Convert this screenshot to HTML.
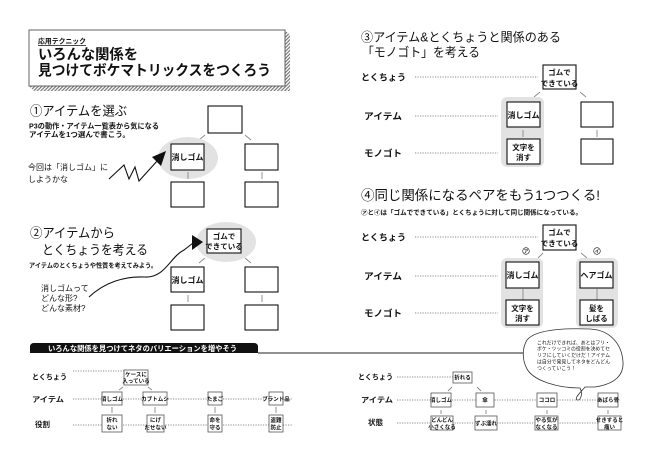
<!DOCTYPE html>
<html><head><meta charset="utf-8"><style>
html,body{margin:0;padding:0;background:#fff;}
svg{display:block;}
text{font-family:"Liberation Sans","Noto Sans CJK JP",sans-serif;fill:#111;}
.b{font-weight:bold;}
.c{text-anchor:middle;}
.box{fill:#fff;stroke:#111;stroke-width:1.1;}
.sb{fill:#fff;stroke:#555;stroke-width:0.8;}
.gl{stroke:#888;stroke-width:0.9;}
.dot{stroke:#666;stroke-width:0.7;stroke-dasharray:1.2 1.3;}
.gr{fill:#e2e2e2;}
</style></head><body>
<svg width="650" height="463" viewBox="0 0 650 463" xmlns="http://www.w3.org/2000/svg">
<defs>
<pattern id="h" width="2.5" height="2.5" patternUnits="userSpaceOnUse" patternTransform="rotate(45)">
<rect width="2.5" height="2.5" fill="#fff"/><rect width="1.2" height="2.5" fill="#777"/>
</pattern>
</defs>

<!-- Title box -->
<polygon points="285,30 290,35 290,91 285,86" fill="url(#h)"/>
<polygon points="29,86 34,91 290,91 285,86" fill="url(#h)"/>
<rect x="29" y="30" width="256" height="56" fill="#fff" stroke="#555" stroke-width="0.9"/>
<text x="38" y="43.5" class="b" font-size="7" textLength="48" lengthAdjust="spacingAndGlyphs">応用テクニック</text>
<line x1="38" y1="45.5" x2="86" y2="45.5" stroke="#111" stroke-width="0.7"/>
<text x="38" y="59.5" class="b" font-size="14.5" textLength="100" lengthAdjust="spacingAndGlyphs">いろんな関係を</text>
<text x="38" y="75.5" class="b" font-size="14.5" textLength="233" lengthAdjust="spacingAndGlyphs">見つけてボケマトリックスをつくろう</text>

<!-- Section 1 -->
<text x="30" y="115.5" font-size="13" textLength="97" lengthAdjust="spacingAndGlyphs">①アイテムを選ぶ</text>
<text x="29" y="128.5" class="b" font-size="7.3" textLength="130" lengthAdjust="spacingAndGlyphs">P3の動作・アイテム一覧表から気になる</text>
<text x="29" y="136.8" class="b" font-size="7.3" textLength="101" lengthAdjust="spacingAndGlyphs">アイテムを1つ選んで書こう。</text>
<rect x="208" y="106" width="34" height="27" class="box"/>
<line x1="199" y1="140" x2="205" y2="135" class="gl"/>
<line x1="245" y1="135" x2="251" y2="140" class="gl"/>
<ellipse cx="188" cy="158" rx="30" ry="21" class="gr"/>
<rect x="171" y="144" width="33" height="26" class="box"/>
<text x="187.5" y="160" class="b c" font-size="8">消しゴム</text>
<rect x="245" y="144" width="33" height="26" class="box"/>
<line x1="188" y1="172" x2="188" y2="179" class="gl"/>
<line x1="262" y1="172" x2="262" y2="179" class="gl"/>
<rect x="171" y="182" width="33" height="25" class="box"/>
<rect x="245" y="182" width="33" height="25" class="box"/>
<polyline points="109,179 124,165 129,179 135,167 139,181 158,160" fill="none" stroke="#111" stroke-width="1.1"/>
<polygon points="166,151 152,157 161,166" fill="#111"/>
<text x="28" y="170" font-size="8">今回は「消しゴム」に</text>
<text x="28" y="182" font-size="8">しようかな</text>

<!-- Section 2 -->
<text x="30" y="237.5" font-size="13" textLength="85" lengthAdjust="spacingAndGlyphs">②アイテムから</text>
<text x="42" y="254.5" font-size="13" textLength="106" lengthAdjust="spacingAndGlyphs">とくちょうを考える</text>
<text x="29" y="267.5" class="b" font-size="6.3" textLength="128" lengthAdjust="spacingAndGlyphs">アイテムのとくちょうや性質を考えてみよう。</text>
<ellipse cx="226" cy="242" rx="30" ry="20" class="gr"/>
<rect x="207" y="229" width="34" height="24" class="box"/>
<text x="224" y="239" class="b c" font-size="7.5">ゴムで</text>
<text x="224" y="249" class="b c" font-size="7.5">できている</text>
<line x1="199" y1="263" x2="205" y2="258" class="gl"/>
<line x1="245" y1="258" x2="251" y2="263" class="gl"/>
<rect x="171" y="267" width="33" height="25" class="box"/>
<text x="187.5" y="283" class="b c" font-size="8">消しゴム</text>
<rect x="245" y="267" width="33" height="25" class="box"/>
<line x1="188" y1="295" x2="188" y2="302" class="gl"/>
<line x1="262" y1="295" x2="262" y2="302" class="gl"/>
<rect x="171" y="305" width="33" height="25" class="box"/>
<rect x="245" y="305" width="33" height="25" class="box"/>
<path d="M89,297 C105,282 125,276 145,277 C165,278 170,257 184,250 L193,243" fill="none" stroke="#111" stroke-width="1.1"/>
<polygon points="192,235 192,250 203,242" fill="#111"/>
<text x="41" y="291" font-size="8">消しゴムって</text>
<text x="41" y="301" font-size="8">どんな形?</text>
<text x="41" y="311" font-size="8">どんな素材?</text>

<!-- Section 3 -->
<text x="361" y="41.5" font-size="12.5" textLength="200" lengthAdjust="spacingAndGlyphs">③アイテム&amp;とくちょうと関係のある</text>
<text x="362" y="56.5" font-size="12.5" textLength="118" lengthAdjust="spacingAndGlyphs">「モノゴト」を考える</text>
<text x="361" y="80.5" class="b" font-size="9" textLength="45" lengthAdjust="spacingAndGlyphs">とくちょう</text>
<line x1="415" y1="77" x2="538" y2="77" class="dot"/>
<rect x="543" y="65" width="33" height="24" class="box"/>
<text x="559.5" y="75" class="b c" font-size="7.5">ゴムで</text>
<text x="559.5" y="86" class="b c" font-size="7.5">できている</text>
<line x1="534" y1="97" x2="540" y2="92" class="gl"/>
<line x1="580" y1="92" x2="586" y2="97" class="gl"/>
<rect x="501" y="97" width="43" height="70" rx="6" class="gr"/>
<text x="364" y="119.5" class="b" font-size="9" textLength="38" lengthAdjust="spacingAndGlyphs">アイテム</text>
<line x1="415" y1="116" x2="498" y2="116" class="dot"/>
<rect x="507" y="102" width="33" height="25" class="box"/>
<text x="523.5" y="118" class="b c" font-size="8">消しゴム</text>
<line x1="523" y1="130" x2="523" y2="137" class="gl"/>
<rect x="507" y="139" width="33" height="25" class="box"/>
<text x="523.5" y="150" class="b c" font-size="7.5">文字を</text>
<text x="523.5" y="160" class="b c" font-size="7.5">消す</text>
<rect x="581" y="102" width="32" height="25" class="box"/>
<line x1="597" y1="130" x2="597" y2="137" class="gl"/>
<rect x="581" y="139" width="32" height="25" class="box"/>
<text x="364" y="156.5" class="b" font-size="9" textLength="38" lengthAdjust="spacingAndGlyphs">モノゴト</text>
<line x1="415" y1="153" x2="498" y2="153" class="dot"/>

<!-- Section 4 -->
<text x="361" y="200" font-size="13.5" textLength="239" lengthAdjust="spacingAndGlyphs">④同じ関係になるペアをもう1つつくる!</text>
<text x="361" y="214.5" class="b" font-size="6.5" textLength="221" lengthAdjust="spacingAndGlyphs">㋐と㋑は「ゴムでできている」とくちょうに対して同じ関係になっている。</text>
<text x="361" y="240.5" class="b" font-size="9" textLength="45" lengthAdjust="spacingAndGlyphs">とくちょう</text>
<line x1="415" y1="237" x2="538" y2="237" class="dot"/>
<rect x="543" y="225" width="33" height="25" class="box"/>
<text x="559.5" y="235" class="b c" font-size="7.5">ゴムで</text>
<text x="559.5" y="246" class="b c" font-size="7.5">できている</text>
<circle cx="526" cy="251" r="3.3" fill="none" stroke="#111" stroke-width="0.6"/>
<text x="526" y="253" class="b c" font-size="4.5">ア</text>
<circle cx="597" cy="251" r="3.3" fill="none" stroke="#111" stroke-width="0.6"/>
<text x="597" y="253" class="b c" font-size="4.5">イ</text>
<line x1="538" y1="258" x2="543" y2="253" class="gl"/>
<line x1="581" y1="253" x2="587" y2="258" class="gl"/>
<rect x="501" y="258" width="42" height="70" rx="6" class="gr"/>
<rect x="576" y="258" width="42" height="70" rx="6" class="gr"/>
<text x="364" y="279.5" class="b" font-size="9" textLength="38" lengthAdjust="spacingAndGlyphs">アイテム</text>
<line x1="415" y1="276" x2="498" y2="276" class="dot"/>
<rect x="506" y="262" width="33" height="26" class="box"/>
<text x="522.5" y="278" class="b c" font-size="8">消しゴム</text>
<rect x="580" y="262" width="33" height="26" class="box"/>
<text x="596.5" y="278" class="b c" font-size="8">ヘアゴム</text>
<line x1="523" y1="289" x2="523" y2="300" class="gl"/>
<line x1="597" y1="289" x2="597" y2="300" class="gl"/>
<rect x="506" y="300" width="33" height="25" class="box"/>
<text x="522.5" y="311" class="b c" font-size="7.5">文字を</text>
<text x="522.5" y="321" class="b c" font-size="7.5">消す</text>
<rect x="580" y="300" width="33" height="25" class="box"/>
<text x="596.5" y="311" class="b c" font-size="7.5">髪を</text>
<text x="596.5" y="321" class="b c" font-size="7.5">しばる</text>
<text x="364" y="316.5" class="b" font-size="9" textLength="38" lengthAdjust="spacingAndGlyphs">モノゴト</text>
<line x1="415" y1="313" x2="498" y2="313" class="dot"/>

<!-- Bottom header -->
<path d="M30,353 L30,347 Q30,343 34,343 L254,343 Q258,343 258,347 L258,353 Z" fill="#111"/>
<line x1="258" y1="353" x2="524" y2="353" stroke="#222" stroke-width="1"/>
<text x="48" y="350.8" class="b" font-size="7.5" style="fill:#fff" textLength="189" lengthAdjust="spacingAndGlyphs">いろんな関係を見つけてネタのバリエーションを増やそう</text>

<!-- Bottom left -->
<text x="32" y="379.5" class="b" font-size="7.5" textLength="35" lengthAdjust="spacingAndGlyphs">とくちょう</text>
<line x1="73" y1="371" x2="124" y2="371" class="dot"/>
<rect x="124" y="370" width="24" height="15" class="sb"/>
<text x="136" y="376.5" class="b c" font-size="5.5">ケースに</text>
<text x="136" y="383" class="b c" font-size="5.5">入っている</text>
<line x1="119" y1="390" x2="123" y2="387" class="gl"/>
<line x1="148" y1="387" x2="152" y2="390" class="gl"/>
<text x="32" y="402" class="b" font-size="7.5" textLength="32" lengthAdjust="spacingAndGlyphs">アイテム</text>
<line x1="73" y1="399" x2="293" y2="399" class="dot"/>
<rect x="102" y="392" width="20" height="13" class="sb"/>
<text x="112" y="401" class="b c" font-size="5.5">消しゴム</text>
<rect x="143" y="392" width="24" height="13" class="sb"/>
<text x="155" y="401" class="b c" font-size="5.5">カブトムシ</text>
<rect x="208" y="392" width="14" height="13" class="sb"/>
<text x="215" y="401" class="b c" font-size="5.5">たまご</text>
<rect x="269" y="392" width="14" height="13" class="sb"/>
<text x="276" y="401" class="b c" font-size="5.5">ブランド品</text>
<line x1="112" y1="407" x2="112" y2="413" class="gl"/>
<line x1="155" y1="407" x2="155" y2="413" class="gl"/>
<line x1="215" y1="407" x2="215" y2="413" class="gl"/>
<line x1="276" y1="407" x2="276" y2="413" class="gl"/>
<text x="35" y="427" class="b" font-size="7.5">役割</text>
<line x1="73" y1="425" x2="293" y2="425" class="dot"/>
<rect x="102" y="415" width="20" height="17" class="sb"/>
<text x="112" y="422" class="b c" font-size="5.5">折れ</text>
<text x="112" y="429.5" class="b c" font-size="5.5">ない</text>
<rect x="147" y="415" width="17" height="17" class="sb"/>
<text x="155.5" y="422" class="b c" font-size="5.5">にげ</text>
<text x="155.5" y="429.5" class="b c" font-size="5.5">だせない</text>
<rect x="208" y="415" width="14" height="17" class="sb"/>
<text x="215" y="422" class="b c" font-size="5.5">命を</text>
<text x="215" y="429.5" class="b c" font-size="5.5">守る</text>
<rect x="269" y="415" width="14" height="17" class="sb"/>
<text x="276" y="422" class="b c" font-size="5.5">盗難</text>
<text x="276" y="429.5" class="b c" font-size="5.5">防止</text>

<!-- Speech bubble -->
<path d="M527,340 C536,329 565,328 590,329 C611,330 622,345 623,362 C624,375 615,384 595,387 L585,387 C581,392 574,398 577,400 C581,401 583,393 580,388 C558,388 534,381 527,369 C522,360 522,348 527,340 Z" fill="#fff" stroke="#333" stroke-width="0.8"/>
<text x="537" y="344.3" font-size="4.9" textLength="73" lengthAdjust="spacingAndGlyphs">これだけできれば、あとはフリ・</text>
<text x="537" y="350.7" font-size="4.9" textLength="73" lengthAdjust="spacingAndGlyphs">ボケ・ツッコミの役割を決めてセ</text>
<text x="537" y="357.1" font-size="4.9" textLength="73" lengthAdjust="spacingAndGlyphs">リフにしていくだけだ！アイテム</text>
<text x="537" y="363.5" font-size="4.9" textLength="73" lengthAdjust="spacingAndGlyphs">は自分で発見してネタをどんどん</text>
<text x="537" y="369.9" font-size="4.9">つくっていこう！</text>

<!-- Bottom right -->
<text x="358" y="379.5" class="b" font-size="7.5" textLength="35" lengthAdjust="spacingAndGlyphs">とくちょう</text>
<line x1="397" y1="377" x2="453" y2="377" class="dot"/>
<rect x="453" y="372" width="19" height="11" class="sb"/>
<text x="462.5" y="379.5" class="b c" font-size="5.5">折れる</text>
<line x1="448" y1="391" x2="452" y2="387" class="gl"/>
<line x1="477" y1="387" x2="481" y2="391" class="gl"/>
<text x="361" y="402.5" class="b" font-size="7.5" textLength="32" lengthAdjust="spacingAndGlyphs">アイテム</text>
<line x1="397" y1="400" x2="620" y2="400" class="dot"/>
<rect x="431" y="393" width="20" height="14" class="sb"/>
<text x="441" y="402" class="b c" font-size="5.5">消しゴム</text>
<rect x="476" y="393" width="18" height="14" class="sb"/>
<text x="485" y="402" class="b c" font-size="5.5">傘</text>
<rect x="537" y="393" width="20" height="14" class="sb"/>
<text x="547" y="402" class="b c" font-size="5.5">ココロ</text>
<rect x="598" y="393" width="20" height="14" class="sb"/>
<text x="608" y="402" class="b c" font-size="5.5">あばら骨</text>
<line x1="441" y1="410" x2="441" y2="414" class="gl"/>
<line x1="486" y1="410" x2="486" y2="414" class="gl"/>
<line x1="547" y1="410" x2="547" y2="414" class="gl"/>
<line x1="608" y1="410" x2="608" y2="414" class="gl"/>
<text x="368" y="425" class="b" font-size="7.5">状態</text>
<line x1="397" y1="423" x2="620" y2="423" class="dot"/>
<rect x="431" y="416" width="22" height="14" class="sb"/>
<text x="442" y="422" class="b c" font-size="5.5">どんどん</text>
<text x="442" y="429" class="b c" font-size="5.5">小さくなる</text>
<rect x="475" y="416" width="22" height="14" class="sb"/>
<text x="486" y="425.5" class="b c" font-size="5.5">ずぶ濡れ</text>
<rect x="535" y="416" width="23" height="14" class="sb"/>
<text x="546.5" y="422" class="b c" font-size="5.5">やる気が</text>
<text x="546.5" y="429" class="b c" font-size="5.5">なくなる</text>
<rect x="598" y="416" width="23" height="14" class="sb"/>
<text x="609.5" y="422" class="b c" font-size="5.5">せきすると</text>
<text x="609.5" y="429" class="b c" font-size="5.5">痛い</text>
</svg>
</body></html>
